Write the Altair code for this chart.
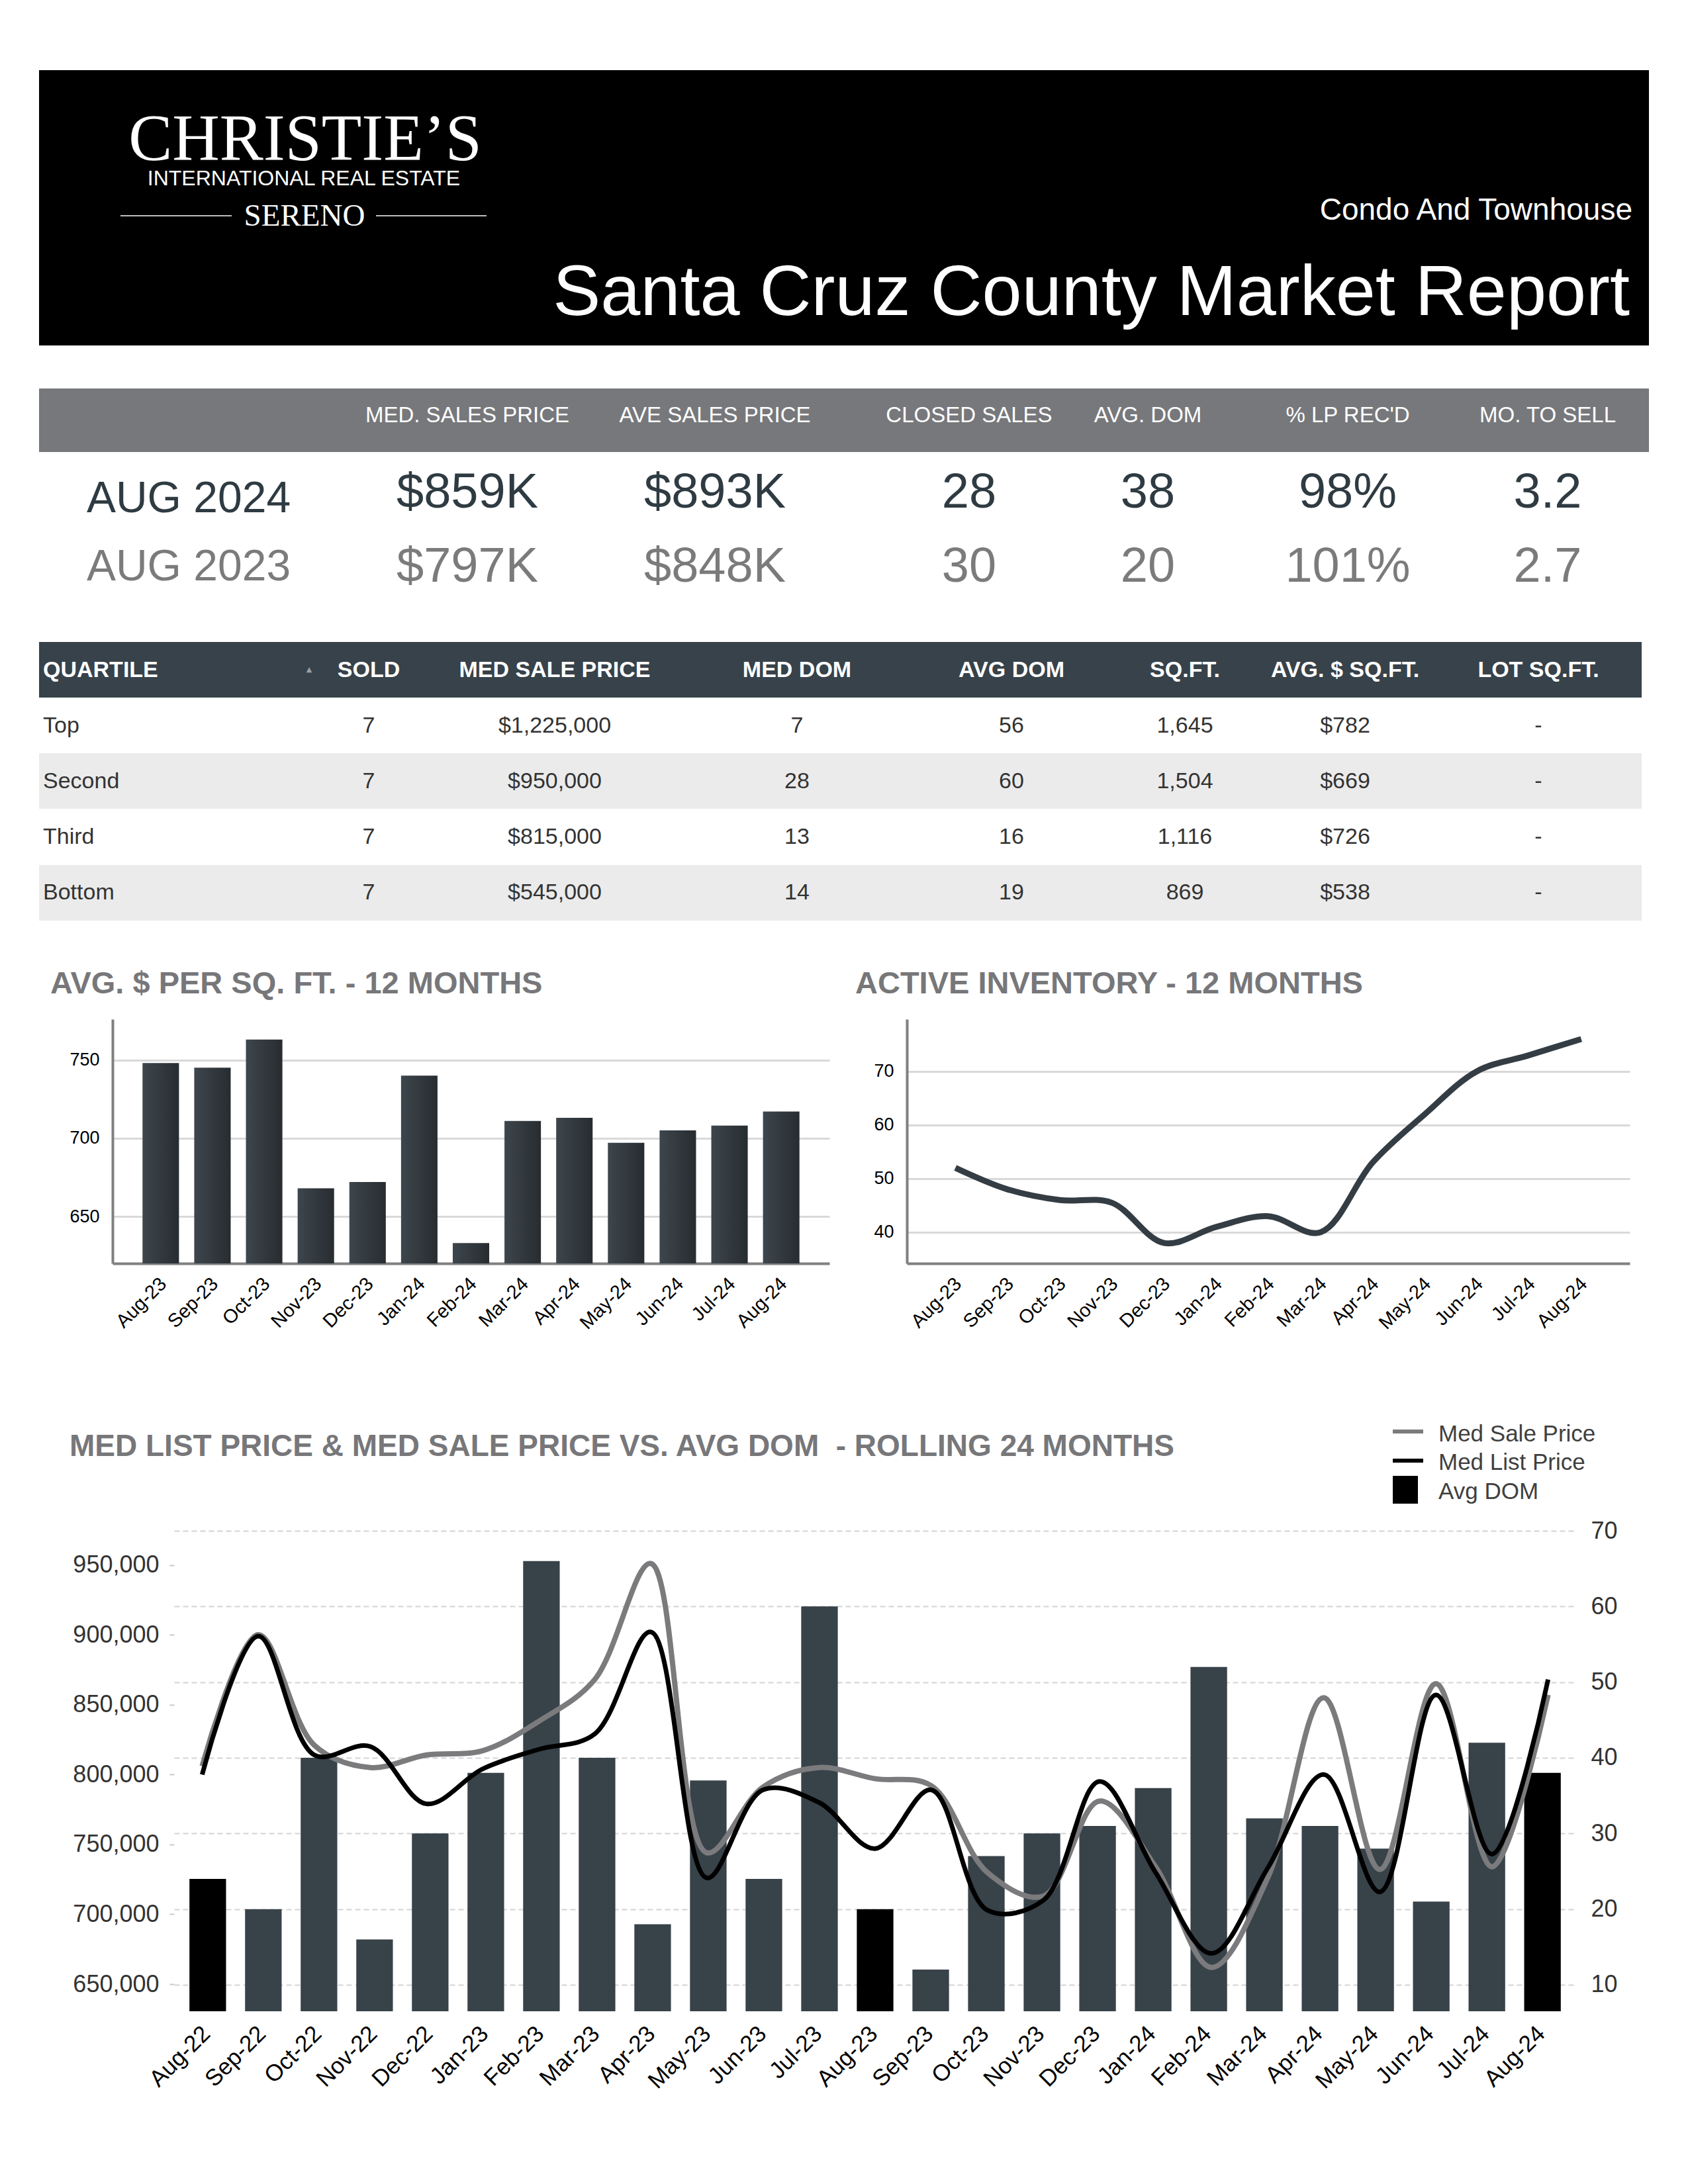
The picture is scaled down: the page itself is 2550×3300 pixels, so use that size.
import altair as alt
import pandas as pd

FONT = "Liberation Sans"
SERIF = "Liberation Serif"
W, H = 2534, 3284

# ---------------- data ----------------
brand = "CHRISTIE\u2019S"
brand_sub = "INTERNATIONAL REAL ESTATE"
brand_office = "SERENO"
property_type = "Condo And Townhouse"
report_title = "Santa Cruz County Market Report"

summary_cols = ["MED. SALES PRICE", "AVE SALES PRICE", "CLOSED SALES", "AVG. DOM", "% LP REC'D", "MO. TO SELL"]
summary_periods = ["AUG 2024", "AUG 2023"]
summary_2024 = ["$859K", "$893K", "28", "38", "98%", "3.2"]
summary_2023 = ["$797K", "$848K", "30", "20", "101%", "2.7"]

quart_cols = ["QUARTILE", "SOLD", "MED SALE PRICE", "MED DOM", "AVG DOM", "SQ.FT.", "AVG. $ SQ.FT.", "LOT SQ.FT."]
quartiles = ["Top", "Second", "Third", "Bottom"]
q_sold = ["7", "7", "7", "7"]
q_med_price = ["$1,225,000", "$950,000", "$815,000", "$545,000"]
q_med_dom = ["7", "28", "13", "14"]
q_avg_dom = ["56", "60", "16", "19"]
q_sqft = ["1,645", "1,504", "1,116", "869"]
q_ppsf = ["$782", "$669", "$726", "$538"]
q_lot = ["-", "-", "-", "-"]

title_ppsf = "AVG. $ PER SQ. FT. - 12 MONTHS"
title_inv = "ACTIVE INVENTORY - 12 MONTHS"
title_24 = "MED LIST PRICE & MED SALE PRICE VS. AVG DOM \u00a0- ROLLING 24 MONTHS"
legend_names = ["Med Sale Price", "Med List Price", "Avg DOM"]

months12 = ["Aug-23", "Sep-23", "Oct-23", "Nov-23", "Dec-23", "Jan-24", "Feb-24",
            "Mar-24", "Apr-24", "May-24", "Jun-24", "Jul-24", "Aug-24"]
ppsf12 = [748, 745, 763, 668, 672, 740, 633, 711, 713, 697, 705, 708, 717]
inventory12 = [52, 48, 46, 45.5, 38, 41, 43, 40, 53, 62, 70, 73, 76]

months24 = ["Aug-22", "Sep-22", "Oct-22", "Nov-22", "Dec-22", "Jan-23", "Feb-23", "Mar-23",
            "Apr-23", "May-23", "Jun-23", "Jul-23", "Aug-23", "Sep-23", "Oct-23", "Nov-23",
            "Dec-23", "Jan-24", "Feb-24", "Mar-24", "Apr-24", "May-24", "Jun-24", "Jul-24", "Aug-24"]
avg_dom24 = [24, 20, 40, 16, 30, 38, 66, 40, 18, 37, 24, 60, 20, 12, 27, 30, 31, 36, 52, 32, 31, 28, 21, 42, 38]
med_list24 = [800000, 899000, 814000, 820000, 779000, 804000, 818000, 829000, 902000, 726000,
              789000, 780000, 747000, 789000, 703000, 710000, 795000, 730000, 672000, 733000,
              800000, 716000, 857000, 743000, 868000]
med_sale24 = [806000, 900000, 821000, 805000, 814000, 817000, 838000, 868000, 951000, 744000,
              791000, 805000, 797000, 792000, 730000, 713000, 781000, 734000, 662000, 726000,
              855000, 732000, 865000, 734000, 857000]

# ---------------- layout helpers (page canvas in pixels) ----------------
def tx(rows, font=FONT, **style):
    df = pd.DataFrame(rows, columns=["x", "y", "t"])
    style.setdefault("baseline", "alphabetic")
    return alt.Chart(df).mark_text(font=font, **style).encode(
        x=alt.X("x:Q", scale=None, axis=None),
        y=alt.Y("y:Q", scale=None, axis=None),
        text="t:N")


def box(rows, color):
    df = pd.DataFrame(rows, columns=["x", "x2", "y", "y2"])
    return alt.Chart(df).mark_rect(color=color).encode(
        x=alt.X("x:Q", scale=None, axis=None), x2="x2:Q",
        y=alt.Y("y:Q", scale=None, axis=None), y2="y2:Q")


def hline(rows, color, width):
    df = pd.DataFrame(rows, columns=["x", "x2", "y"])
    return alt.Chart(df).mark_rule(color=color, strokeWidth=width).encode(
        x=alt.X("x:Q", scale=None, axis=None), x2="x2:Q",
        y=alt.Y("y:Q", scale=None, axis=None))


DARK = "#2f3b42"
GREY = "#7b7b7b"
TITLE_GREY = "#77777a"

layers = []

# header band
layers += [
    box([(51, 2483, 98, 514)], "#000000"),
    tx([(453, 233, brand)], font=SERIF, fontSize=99, color="white", align="center"),
    tx([(451, 272, brand_sub)], fontSize=32, color="white", align="center"),
    tx([(452, 333, brand_office)], font=SERIF, fontSize=47, color="white", align="center"),
    hline([(174, 342, 318), (560, 727, 318)], "#bdbdbd", 2),
    tx([(2458, 324, property_type)], fontSize=46, color="white", align="right"),
    tx([(2454, 468, report_title)], fontSize=108, color="white", align="right"),
]

# summary block
SUM_X = [698, 1072, 1456, 1726, 2028, 2330]
layers += [
    box([(51, 2483, 579, 675)], "#77787b"),
    tx([(SUM_X[i], 630, c) for i, c in enumerate(summary_cols)], fontSize=33, color="white", align="center"),
    tx([(277, 766, summary_periods[0])], fontSize=66, color=DARK, align="center"),
    tx([(277, 869, summary_periods[1])], fontSize=66, color=GREY, align="center"),
    tx([(SUM_X[i], 759, v) for i, v in enumerate(summary_2024)], fontSize=74, color=DARK, align="center"),
    tx([(SUM_X[i], 871, v) for i, v in enumerate(summary_2023)], fontSize=74, color=GREY, align="center"),
]

# quartile table
Q_X = [549, 830, 1196, 1520, 1782, 2024, 2316]
ROW_Y = [1099, 1183, 1267, 1351]
cols = [q_sold, q_med_price, q_med_dom, q_avg_dom, q_sqft, q_ppsf, q_lot]
cells = []
for ci, col in enumerate(cols):
    for ri, v in enumerate(col):
        cells.append((Q_X[ci], ROW_Y[ri], v))
layers += [
    box([(51, 2472, 962, 1046)], "#37424a"),
    box([(51, 2472, 1130, 1214), (51, 2472, 1299, 1383)], "#ebebeb"),
    tx([(57, 1015, quart_cols[0])], fontSize=34, fontWeight="bold", color="white", align="left"),
    tx([(Q_X[i], 1015, c) for i, c in enumerate(quart_cols[1:])], fontSize=34, fontWeight="bold",
       color="white", align="center"),
    tx([(459, 1007, "\u25b2")], font="DejaVu Sans", fontSize=11, color="#9aa0a6", align="center"),
    tx([(57, ROW_Y[i], q) for i, q in enumerate(quartiles)], fontSize=34, color="#333333", align="left"),
    tx(cells, fontSize=34, color="#333333", align="center"),
]

# section titles and legend
layers += [
    tx([(68, 1493, title_ppsf), (1284, 1493, title_inv)],
       fontSize=47, fontWeight="bold", color=TITLE_GREY, align="left"),
    tx([(97, 2192, title_24)], fontSize=46, fontWeight="bold", color=TITLE_GREY, align="left"),
    hline([(2096, 2142, 2155)], "#7b7b7e", 6),
    hline([(2096, 2142, 2199)], "#000000", 6),
    box([(2096, 2134, 2222, 2264)], "#000000"),
    tx([(2165, 2170, legend_names[0]), (2165, 2213, legend_names[1]), (2165, 2257, legend_names[2])],
       fontSize=35, color="#404040", align="left"),
]

# ---------------- 12-month charts ----------------
df12 = pd.DataFrame({"month": months12, "ppsf": ppsf12, "inv": inventory12})

grad = alt.LinearGradient(
    gradient="linear",
    stops=[alt.GradientStop(color="#3d464d", offset=0), alt.GradientStop(color="#272c30", offset=1)],
    x1=0, x2=1, y1=0, y2=0)


def x12_axis():
    return alt.Axis(title=None, orient="bottom", offset=1901 - H, labelAngle=-45, labelFontSize=29,
                    labelColor="#000000", labelPadding=16, labelAlign="right", labelBaseline="top",
                    labelOffset=-6, ticks=False, domainColor="#808080", domainWidth=4, grid=False)


def y12_axis(values, off):
    return alt.Axis(title=None, orient="left", offset=off, values=values, labelFontSize=27,
                    labelColor="#000000", labelPadding=20, ticks=False, domainColor="#808080",
                    domainWidth=4, grid=True, gridColor="#d9d9d9", gridWidth=3)


bar1 = alt.Chart(df12).mark_bar(color=grad).encode(
    x=alt.X("month:N", sort=months12,
            scale=alt.Scale(range=[162, 1245], paddingInner=0.295, paddingOuter=0.58),
            axis=x12_axis()),
    y=alt.Y("ppsf:Q", scale=alt.Scale(domain=[620, 776], range=[1901, 1532], nice=False, zero=False),
            axis=y12_axis([650, 700, 750], -162)),
    y2=alt.datum(620),
)

line2 = alt.Chart(df12).mark_line(color="#353d44", strokeWidth=9, interpolate="catmull-rom").encode(
    x=alt.X("month:N", sort=months12,
            scale=alt.Scale(type="point", range=[1362, 2454], padding=0.93),
            axis=x12_axis()),
    y=alt.Y("inv:Q", scale=alt.Scale(domain=[34.2, 79.7], range=[1901, 1532], nice=False, zero=False),
            axis=y12_axis([40, 50, 60, 70], -1362)),
)

# ---------------- 24-month combo chart ----------------
df24 = pd.DataFrame({"month": months24, "dom": avg_dom24, "list": med_list24, "sale": med_sale24})
df24["aug"] = df24["month"].str.startswith("Aug")


def xb(axis):
    return alt.X("month:N", sort=months24,
                 scale=alt.Scale(range=[255, 2373], paddingInner=0.342, paddingOuter=0.276),
                 axis=axis)


def dom_scale():
    return alt.Scale(domain=[6.5, 70], range=[3031, 2305], nice=False, zero=False)


def price_scale():
    return alt.Scale(domain=[630600, 974400], range=[3031, 2305], nice=False, zero=False)


dom_ticks = [10, 20, 30, 40, 50, 60, 70]
price_ticks = [650000, 700000, 750000, 800000, 850000, 900000, 950000]

bars24 = alt.Chart(df24).mark_bar().encode(
    x=xb(alt.Axis(title=None, orient="bottom", offset=3031 - H, labelAngle=-45, labelFontSize=35,
                  labelColor="#000000", labelPadding=16, labelAlign="right", labelBaseline="top",
                  labelOffset=-14, ticks=False, domain=False, grid=False)),
    y=alt.Y("dom:Q", scale=dom_scale(),
            axis=alt.Axis(title=None, orient="left", offset=-255, values=dom_ticks, labels=False,
                          ticks=False, domain=False, grid=True, gridDash=[8, 5], gridColor="#d4d4d4",
                          gridWidth=2)),
    y2=alt.datum(6.5),
    color=alt.when(alt.datum.aug).then(alt.value("#000000")).otherwise(alt.value("#384249")),
)

dom_labels = alt.Chart(df24).mark_bar(opacity=0).encode(
    x=xb(None),
    y=alt.Y("dom:Q", scale=dom_scale(),
            axis=alt.Axis(title=None, orient="right", offset=2380 - W, values=dom_ticks,
                          labelFontSize=36, labelColor="#333333", labelPadding=15, ticks=False,
                          domain=False, grid=False)),
    y2=alt.datum(6.5),
)

sale_line = alt.Chart(df24).mark_line(color="#7b7b7e", strokeWidth=8, interpolate="catmull-rom").encode(
    x=xb(None),
    y=alt.Y("sale:Q", scale=price_scale(),
            axis=alt.Axis(title=None, orient="left", offset=-255, values=price_ticks,
                          labelExpr="format(datum.value, ',.0f')",
                          labelFontSize=36, labelColor="#333333", labelPadding=16, ticks=True,
                          tickSize=7, tickColor="#c8c8c8", tickWidth=2, domain=False, grid=False)),
)

list_line = alt.Chart(df24).mark_line(color="#000000", strokeWidth=7, interpolate="catmull-rom").encode(
    x=xb(None),
    y=alt.Y("list:Q", scale=price_scale(), axis=None),
)

layers += [bar1, line2, bars24, dom_labels, sale_line, list_line]

chart = alt.layer(*layers).resolve_scale(x="independent", y="independent").properties(
    width=W, height=H, padding=0
).configure_view(stroke=None).configure_axis(labelFont=FONT)

chart.save("out.html", embed_options={"renderer": "svg", "actions": False})
